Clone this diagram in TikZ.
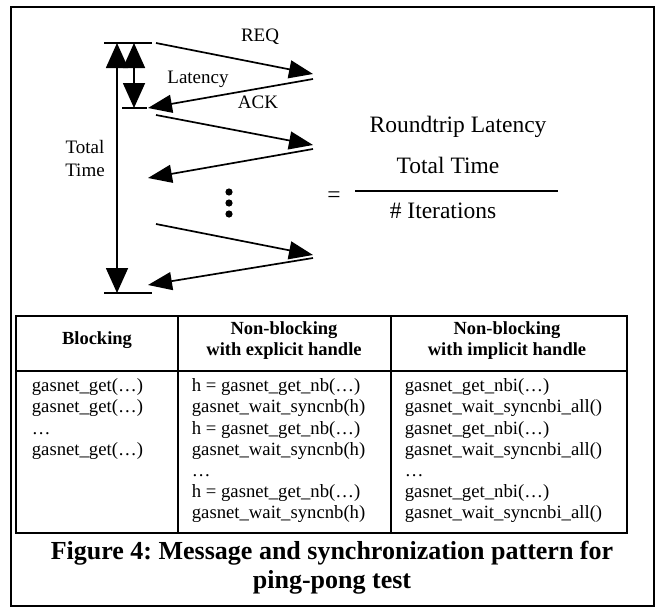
\documentclass[tikz,border=0pt]{standalone}
\usepackage{fontspec}
\setmainfont{Liberation Serif}
\usetikzlibrary{arrows.meta}
\frenchspacing

\newcommand{\fsz}[2]{\fontsize{#1}{#2}\selectfont}

\begin{document}
\begin{tikzpicture}[x=1pt, y=-1pt, line width=1.7pt,
    every node/.style={inner sep=0pt},
    msg/.style={-{Triangle[length=24pt,width=18pt]}},
    span/.style={{Triangle[length=25pt,width=22pt]}-{Triangle[length=25pt,width=22pt]}},
    lbl/.style={font=\fsz{19}{23}, align=center},
    frac/.style={font=\fsz{23.5}{26}},
    body/.style={anchor=north west, align=left, font=\fsz{18.7}{21.1}},
    head/.style={align=center, font=\fsz{18.5}{21}\bfseries}]
  \useasboundingbox (0,0) rectangle (658,610);
  \draw[line width=1.5pt] (11,7) rectangle (654,606);

  % time marks
  \coordinate (t0l) at (104,43);  \coordinate (t0r) at (152,43);
  \coordinate (t1l) at (122,108); \coordinate (t1r) at (147,108);
  \coordinate (t2l) at (104,293); \coordinate (t2r) at (152,293);
  \draw (t0l) -- (t0r);
  \draw (t1l) -- (t1r);
  \draw (t2l) -- (t2r);
  \draw[span] (117,43) coordinate (tt0) -- (117,293) coordinate (tt1);
  \draw[span] (134,43) coordinate (lt0) -- (134,108) coordinate (lt1);

  % messages
  \coordinate (s1) at (156,43);  \coordinate (e1) at (313,74);
  \coordinate (s2) at (313,79);  \coordinate (e2) at (148,108);
  \coordinate (s3) at (156,115); \coordinate (e3) at (313,145);
  \coordinate (s4) at (313,149); \coordinate (e4) at (148,178);
  \coordinate (s5) at (156,224); \coordinate (e5) at (313,255);
  \coordinate (s6) at (313,258); \coordinate (e6) at (148,285);
  \draw[msg] (s1) -- (e1);
  \draw[msg] (s2) -- (e2);
  \draw[msg] (s3) -- (e3);
  \draw[msg] (s4) -- (e4);
  \draw[msg] (s5) -- (e5);
  \draw[msg] (s6) -- (e6);
  \foreach \y in {192,203,214}
    \fill (229,\y) circle (3.6pt);

  \node[lbl] (req) at (260,37) {REQ};
  \node[lbl] (lat) at (198,79) {Latency};
  \node[lbl] (ack) at (258,102) {ACK};
  \node[lbl] (tot) at (85,158) {Total\\Time};

  % formula
  \node[frac] (eq) at (334,197) {=};
  \node[frac] (rtl) at (458,127) {Roundtrip Latency};
  \node[frac] (num) at (448,165) {Total Time};
  \node[frac] (den) at (443,211) {\# Iterations};
  \coordinate (f0) at (355,191); \coordinate (f1) at (558,191);
  \draw (f0) -- (f1);

  % table
  \draw (16,316) rectangle (627,533);
  \draw (16,371) -- (627,371);
  \draw (178,316) -- (178,533);
  \draw (391,316) -- (391,533);
  \node[head] (h1) at (97,340) {Blocking};
  \node[head] (h2) at (284,341) {Non-blocking\\with explicit handle};
  \node[head] (h3) at (507,341) {Non-blocking\\with implicit handle};
  \node[body] (c1) at (31,378) {gasnet\_get(…)\\gasnet\_get(…)\\…\\gasnet\_get(…)};
  \node[body] (c2) at (191,378) {h = gasnet\_get\_nb(…)\\gasnet\_wait\_syncnb(h)\\h = gasnet\_get\_nb(…)\\gasnet\_wait\_syncnb(h)\\…\\h = gasnet\_get\_nb(…)\\gasnet\_wait\_syncnb(h)};
  \node[body] (c3) at (404,378) {gasnet\_get\_nbi(…)\\gasnet\_wait\_syncnbi\_all()\\gasnet\_get\_nbi(…)\\gasnet\_wait\_syncnbi\_all()\\…\\gasnet\_get\_nbi(…)\\gasnet\_wait\_syncnbi\_all()};

  % caption
  \node[align=center, font=\fsz{26}{29}\bfseries] (cap) at (332,568)
    {Figure 4: Message and synchronization pattern for\\ping-pong test};
\end{tikzpicture}
\end{document}
